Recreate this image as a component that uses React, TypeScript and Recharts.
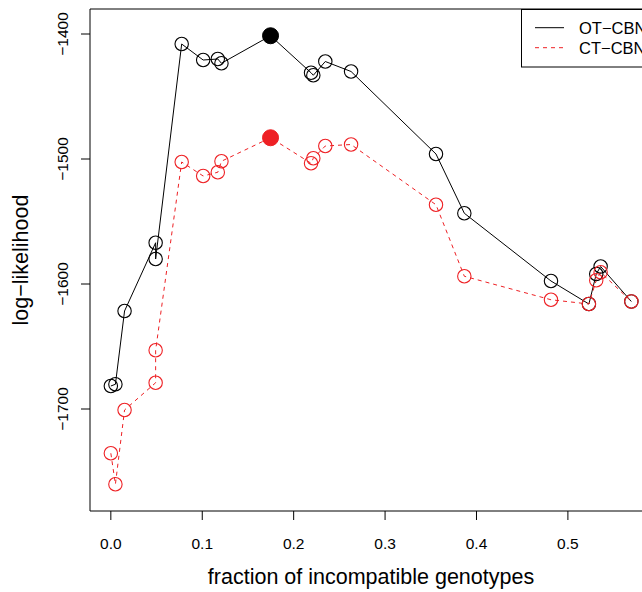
import React from "react";
import { LineChart, Line, XAxis, YAxis, ReferenceArea, Legend } from "recharts";

const fractions = [
  0, 0.005, 0.015, 0.049, 0.049, 0.0775, 0.101, 0.117, 0.121, 0.1747, 0.219,
  0.2215, 0.2346, 0.2628, 0.3557, 0.3867, 0.4815, 0.523, 0.531, 0.5358, 0.5694,
];
const otCbn = [
  -1681.6, -1680.2, -1621.6, -1567, -1580, -1408, -1420.8, -1420, -1423.4,
  -1401.4, -1431, -1433, -1422, -1430, -1496, -1543.4, -1597.6, -1616, -1592,
  -1586, -1614,
];
const ctCbn = [
  -1735.4, -1760.2, -1700.8, -1679, -1653, -1502.4, -1513.6, -1510.6, -1501.8,
  -1483, -1503.4, -1499.4, -1489.6, -1488.4, -1536.6, -1593.8, -1612.6, -1616,
  -1597, -1590.6, -1614,
];
const seriesNames = ["OT\u2212CBN", "CT\u2212CBN"];
const xTicks = [0, 0.1, 0.2, 0.3, 0.4, 0.5];
const yTicks = [-1700, -1600, -1500, -1400];
const xDomain = [-0.0228, 0.592];
const yDomain = [-1781.6, -1380];

const RED = "#ee2024";
const FONT = "'Liberation Sans', Arimo, Arial, sans-serif";

const data = fractions.map((x, i) => ({ x, ot: otCbn[i], ct: ctCbn[i] }));
const argMax = (arr: number[]) => arr.indexOf(Math.max(...arr));

const makeDot = (color: string, best: number) => (props: any) => {
  const { cx, cy, index } = props;
  if (index === best)
    return <circle key={index} cx={cx} cy={cy} r={8} fill={color} stroke={color} />;
  return (
    <circle key={index} cx={cx} cy={cy} r={6.7} fill="none" stroke={color} strokeWidth={1.1} />
  );
};

const minus = (v: number) => (v < 0 ? "\u2212" + Math.abs(v) : String(v));

const XTick = (props: any) => {
  const { x, y, payload } = props;
  return (
    <text x={x} y={y + 29} textAnchor="middle" fontSize={15.5} fontFamily={FONT} fill="#000">
      {payload.value.toFixed(1)}
    </text>
  );
};

const YTick = (props: any) => {
  const { x, y, payload } = props;
  const tx = x - 13;
  return (
    <text
      x={tx}
      y={y}
      transform={`rotate(-90, ${tx}, ${y})`}
      textAnchor="middle"
      fontSize={15.5}
      fontFamily={FONT}
      fill="#000"
    >
      {minus(payload.value)}
    </text>
  );
};

const renderLegend = (props: any) => {
  const payload = [...(props.payload || [])].sort(
    (a: any, b: any) => seriesNames.indexOf(a.value) - seriesNames.indexOf(b.value)
  );
  return (
    <svg width={121} height={59} style={{ display: "block" }}>
      <rect x={0.5} y={0.5} width={200} height={57.5} fill="#fff" stroke="#000" />
      {payload.map((entry: any, i: number) => (
        <g key={entry.value}>
          <line
            x1={14}
            x2={43}
            y1={18.7 + i * 20}
            y2={18.7 + i * 20}
            stroke={entry.color}
            strokeDasharray={entry.payload?.strokeDasharray}
          />
          <text x={58} y={24.6 + i * 20} fontSize={16.5} fontFamily={FONT} fill="#000">
            {entry.value}
          </text>
        </g>
      ))}
    </svg>
  );
};

export default function App() {
  return (
    <div
      style={{
        position: "absolute",
        left: 0,
        top: 0,
        width: 642,
        height: 592,
        overflow: "hidden",
        background: "#fff",
      }}
    >
      <LineChart width={700} height={592} data={data} margin={{ top: 9, right: 48, bottom: 0, left: 0 }}>
        <XAxis
          dataKey="x"
          type="number"
          domain={xDomain}
          ticks={xTicks}
          height={81}
          axisLine={false}
          tickSize={9}
          tickMargin={0}
          tickLine={{ stroke: "#000" }}
          tick={<XTick />}
          label={(p: any) => {
            const vb = p.viewBox;
            return (
              <text
                x={vb.x + vb.width / 2}
                y={vb.y + 73}
                textAnchor="middle"
                fontSize={21.5}
                fontFamily={FONT}
                fill="#000"
              >
                fraction of incompatible genotypes
              </text>
            );
          }}
        />
        <YAxis
          type="number"
          domain={yDomain}
          ticks={yTicks}
          width={90}
          axisLine={false}
          tickSize={9}
          tickMargin={0}
          tickLine={{ stroke: "#000" }}
          tick={<YTick />}
          label={(p: any) => {
            const vb = p.viewBox;
            const cy = vb.y + vb.height / 2;
            return (
              <text
                x={28}
                y={cy}
                transform={`rotate(-90, 28, ${cy})`}
                textAnchor="middle"
                fontSize={21.5}
                fontFamily={FONT}
                fill="#000"
              >
                log{"\u2212"}likelihood
              </text>
            );
          }}
        />
        <ReferenceArea
          x1={xDomain[0]}
          x2={xDomain[1]}
          y1={yDomain[0]}
          y2={yDomain[1]}
          fill="none"
          stroke="#000"
          strokeWidth={1}
          fillOpacity={0}
        />
        <Line
          dataKey="ot"
          name={seriesNames[0]}
          stroke="#000"
          strokeWidth={1}
          dot={makeDot("#000", argMax(otCbn))}
          activeDot={false}
          isAnimationActive={false}
        />
        <Line
          dataKey="ct"
          name={seriesNames[1]}
          stroke={RED}
          strokeWidth={1}
          strokeDasharray="4 4"
          dot={makeDot(RED, argMax(ctCbn))}
          activeDot={false}
          isAnimationActive={false}
        />
        <Legend
          layout="vertical"
          align="center"
          verticalAlign="middle"
          content={renderLegend}
          wrapperStyle={{ position: "absolute", left: 521, top: 9, width: 121, height: 59 }}
        />
      </LineChart>
    </div>
  );
}
